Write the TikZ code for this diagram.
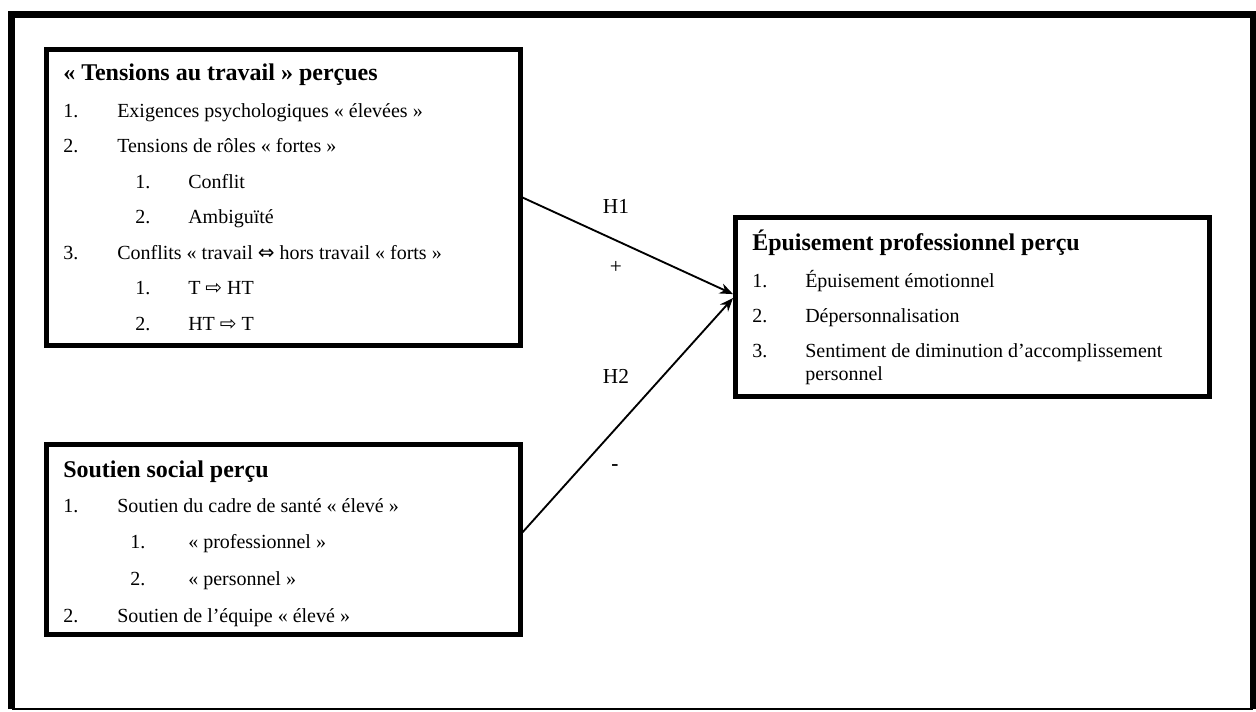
\documentclass[tikz,border=0pt]{standalone}
\usepackage{fontspec}
\setmainfont{Liberation Serif}
\newfontfamily\symfont{DejaVu Sans}
\usetikzlibrary{arrows.meta}

\newcommand\arrLR{{\symfont\char"21D4}}
\newcommand\arrR{{\symfont\char"21E8}}

\begin{document}
\begin{tikzpicture}[
    x=0.75pt, y=-0.75pt,
    box/.style={
      rectangle,
      draw,
      line width=3.75pt,
      minimum width=355.125pt,
      inner sep=0pt
    },
    title/.style={
      anchor=base west,
      inner sep=0pt,
      font=\fontsize{18}{21}\selectfont\bfseries
    },
    item/.style={
      anchor=base west,
      inner sep=0pt,
      font=\fontsize{15}{18}\selectfont
    },
    hypo/.style={
      ->,
      >={Stealth[length=10pt,width=8pt]},
      line width=1.4pt
    }
  ]
  \useasboundingbox (0,0) rectangle (1256,711);

  % outer frame
  \draw[line width=5.25pt] (11.5,709) -- (11.5,14) -- (1253,14) -- (1253,709);
  \draw[line width=0.8pt] (11.5,709) -- (1253,709);

  % the three boxes
  \node[box, minimum height=222pt] (tensions) at (283.25,197.5) {};
  \node[box, minimum height=142.5pt] (soutien) at (283.25,539) {};
  \node[box, minimum height=133.875pt] (epuisement) at (972.25,306.75) {};

  % tensions au travail
  \node[title] (tensions-title) at (63,80) {« Tensions au travail » perçues};
  \foreach \yy/\xn/\xt/\num/\txt [count=\i] in {
      117/63/117/1./{Exigences psychologiques « élevées »},
      152.5/63/117/2./{Tensions de rôles « fortes »},
      188/135/188/1./{Conflit},
      223.5/135/188/2./{Ambiguïté},
      259/63/117/3./{Conflits « travail \arrLR{} hors travail « forts »},
      294.5/135/188/1./{T \arrR{} HT},
      330/135/188/2./{HT \arrR{} T}} {
    \node[item] (tensions-n\i) at (\xn,\yy) {\num};
    \node[item] (tensions-t\i) at (\xt,\yy) {\txt};
  }

  % soutien social
  \node[title] (soutien-title) at (63,477) {Soutien social perçu};
  \foreach \yy/\xn/\xt/\num/\txt [count=\i] in {
      512/63/117/1./{Soutien du cadre de santé « élevé »},
      548/130/188/1./{« professionnel »},
      585/130/188/2./{« personnel »},
      622/63/117/2./{Soutien de l’équipe « élevé »}} {
    \node[item] (soutien-n\i) at (\xn,\yy) {\num};
    \node[item] (soutien-t\i) at (\xt,\yy) {\txt};
  }

  % epuisement professionnel
  \node[title] (epuisement-title) at (752,250) {Épuisement professionnel perçu};
  \foreach \yy/\num/\txt [count=\i] in {
      287/1./{Épuisement émotionnel},
      322/2./{Dépersonnalisation},
      357/3./{Sentiment de diminution d’accomplissement}} {
    \node[item] (epuisement-n\i) at (752,\yy) {\num};
    \node[item] (epuisement-t\i) at (805,\yy) {\txt};
  }
  \node[item] (epuisement-t3b) at (805,380) {personnel};

  % hypotheses
  \draw[hypo] (tensions.east) -- ([yshift=9.5pt]epuisement.west);
  \draw[hypo] ([yshift=5pt]soutien.east) -- ([yshift=6.5pt]epuisement.west);
  \node[item, anchor=base, font=\fontsize{16}{19}\selectfont] (h1) at (616,213) {H1};
  \node[item, anchor=center, font=\fontsize{16}{19}\selectfont] (h1-sign) at (616,267) {+};
  \node[item, anchor=base, font=\fontsize{16}{19}\selectfont] (h2) at (616,383) {H2};
  \node[item, anchor=center, font=\fontsize{16}{19}\selectfont\bfseries] (h2-sign) at (615,468) {-};
\end{tikzpicture}
\end{document}
